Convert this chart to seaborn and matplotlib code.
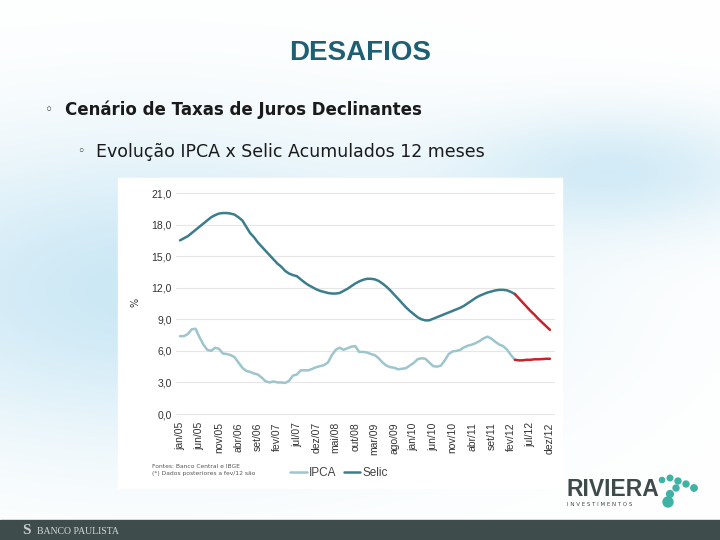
import numpy as np
import pandas as pd
import matplotlib.pyplot as plt
import seaborn as sns
from matplotlib.patches import Rectangle, Circle

# Selic and IPCA, 12-month accumulated (%), monthly jan/05 .. dez/12
selic = [16.5, 16.7, 16.9, 17.2, 17.5, 17.8, 18.1, 18.4, 18.7, 18.9, 19.05, 19.1,
         19.1, 19.05, 18.95, 18.7, 18.4, 17.8, 17.2, 16.8, 16.3, 15.9, 15.5, 15.1,
         14.7, 14.3, 14.0, 13.6, 13.35, 13.2, 13.1, 12.8, 12.5, 12.25, 12.05, 11.85,
         11.7, 11.6, 11.5, 11.45, 11.45, 11.5, 11.7, 11.9, 12.15, 12.4, 12.6, 12.75,
         12.85, 12.85, 12.8, 12.65, 12.4, 12.1, 11.75, 11.35, 10.95, 10.55, 10.15, 9.8,
         9.5, 9.2, 9.0, 8.9, 8.9, 9.05, 9.2, 9.35, 9.5, 9.65, 9.8, 9.95,
         10.1, 10.3, 10.55, 10.8, 11.05, 11.25, 11.4, 11.55, 11.65, 11.75, 11.8, 11.8,
         11.75, 11.6, 11.4, 11.0, 10.6, 10.2, 9.8, 9.45, 9.05, 8.7, 8.35, 8.0]
ipca = [7.4, 7.4, 7.6, 8.05, 8.1, 7.3, 6.6, 6.1, 6.0, 6.3, 6.2, 5.75,
        5.7, 5.6, 5.4, 4.9, 4.4, 4.1, 4.0, 3.85, 3.75, 3.45, 3.1, 3.0,
        3.1, 3.0, 3.0, 2.95, 3.15, 3.65, 3.75, 4.15, 4.15, 4.15, 4.3, 4.45,
        4.55, 4.65, 4.9, 5.6, 6.1, 6.3, 6.1, 6.25, 6.4, 6.45, 5.9, 5.9,
        5.85, 5.7, 5.6, 5.3, 4.9, 4.6, 4.45, 4.4, 4.25, 4.3, 4.35, 4.6,
        4.85, 5.2, 5.3, 5.25, 4.9, 4.55, 4.5, 4.6, 5.1, 5.7, 5.95, 6.0,
        6.1, 6.35, 6.5, 6.6, 6.75, 6.95, 7.2, 7.35, 7.15, 6.85, 6.6, 6.45,
        6.1, 5.6, 5.15, 5.1, 5.1, 5.15, 5.15, 5.2, 5.2, 5.22, 5.25, 5.25]
proj_start = 86  # projected values (red) from here on

tick_labels = ['jan/05', 'jun/05', 'nov/05', 'abr/06', 'set/06', 'fev/07', 'jul/07',
               'dez/07', 'mai/08', 'out/08', 'mar/09', 'ago/09', 'jan/10', 'jun/10',
               'nov/10', 'abr/11', 'set/11', 'fev/12', 'jul/12', 'dez/12']
y_ticks = [0, 3, 6, 9, 12, 15, 18, 21]

df = pd.DataFrame({'mes': np.arange(len(selic)), 'Selic': selic, 'IPCA': ipca})
hist = df[df['mes'] <= proj_start]
proj = df[df['mes'] >= proj_start]

c_selic = '#3c7d8c'
c_ipca = '#9dc5ce'
c_proj = '#c4242b'

sns.set_style('white')
fig = plt.figure(figsize=(7.2, 5.4), dpi=100)

# slide background: soft blue swoosh
bg = fig.add_axes([0, 0, 1, 1])
yy, xx = np.mgrid[0:540, 0:720]
glow = np.exp(-(((xx - 150) / 330.0) ** 2 + ((yy - 290) / 150.0) ** 2))
glow += 0.8 * np.exp(-(((xx - 620) / 160.0) ** 2 + ((yy - 170) / 60.0) ** 2))
glow = np.clip(glow, 0, 1)
base = np.array([1.0, 1.0, 1.0])
tint = np.array([0.80, 0.91, 0.96])
img = base[None, None, :] * (1 - glow[..., None]) + tint[None, None, :] * glow[..., None]
bg.imshow(img, extent=[0, 720, 540, 0], aspect='auto')
bg.set_xlim(0, 720)
bg.set_ylim(540, 0)
bg.axis('off')

# white chart panel, bottom bar
bg.add_patch(Rectangle((118, 178), 444, 310, color='white', zorder=2))
bg.add_patch(Rectangle((0, 520), 720, 20, color='#3e4c4b', zorder=2))

bg.text(360, 53, 'DESAFIOS', ha='center', va='center', fontsize=20, fontweight='bold',
        color='#1e5f73', family='Liberation Sans', zorder=3)
bg.text(49, 110, '◦', ha='center', va='center', fontsize=10, color='#333333', zorder=3)
bg.text(65, 110, 'Cenário de Taxas de Juros Declinantes', ha='left', va='center',
        fontsize=12, fontweight='bold', color='#1a1a1a', family='DejaVu Sans', zorder=3)
bg.text(81, 152, '◦', ha='center', va='center', fontsize=9, color='#333333', zorder=3)
bg.text(96, 152, 'Evolução IPCA x Selic Acumulados 12 meses', ha='left', va='center',
        fontsize=12.5, color='#1a1a1a', family='DejaVu Sans', zorder=3)

bg.text(152, 466, 'Fontes: Banco Central e IBGE', fontsize=4.3, color='#555555',
        va='center', zorder=3)
bg.text(152, 474, '(*) Dados posteriores a fev/12 são', fontsize=4.3, color='#555555',
        va='center', zorder=3)

# RIVIERA logo
bg.text(566, 489, 'RIVIERA', fontsize=16.5, fontweight='bold', color='#3f4a4b',
        va='center', ha='left', family='Liberation Sans', zorder=3)
bg.text(567, 505, 'I N V E S T I M E N T O S', fontsize=4, color='#3f4a4b',
        va='center', ha='left', zorder=3)
for cx, cy, r in [(662, 480, 2.6), (670, 478, 2.8), (678, 481, 3.0), (686, 484, 3.0),
                  (694, 488, 3.2), (676, 488, 3.0), (670, 494, 3.4), (668, 502, 5.0)]:
    bg.add_patch(Circle((cx, cy), r, color='#3fb2a6', zorder=3))

# BANCO PAULISTA mark
bg.text(26, 530, 'S', fontsize=11, color='#c9cfcf', ha='center', va='center',
        family='Liberation Serif', fontweight='bold', zorder=3)
bg.text(37, 531, 'BANCO PAULISTA', fontsize=7, color='#d3d7d7', ha='left', va='center',
        family='Liberation Serif', zorder=3)

# chart
ax = fig.add_axes([176 / 720, 1 - 418 / 540, 379 / 720, 232 / 540])
ax.set_facecolor('none')
sns.lineplot(data=hist, x='mes', y='IPCA', color=c_ipca, lw=1.8, ax=ax, label='IPCA')
sns.lineplot(data=hist, x='mes', y='Selic', color=c_selic, lw=1.8, ax=ax, label='Selic')
sns.lineplot(data=proj, x='mes', y='IPCA', color=c_proj, lw=1.8, ax=ax, legend=False)
sns.lineplot(data=proj, x='mes', y='Selic', color=c_proj, lw=1.8, ax=ax, legend=False)

ax.set_xlim(-1.03, 96.3)
ax.set_ylim(-0.38, 21.67)
ax.set_yticks(y_ticks)
ax.set_yticklabels([f'{v:.1f}'.replace('.', ',') for v in y_ticks], fontsize=7.5,
                   color='#333333', family='Liberation Sans')
ax.set_xticks(np.arange(0, 96, 5))
ax.set_xticklabels(tick_labels, rotation=90, fontsize=7.5, color='#333333',
                   family='Liberation Sans')
ax.tick_params(length=0, pad=3)
ax.grid(axis='y', color='#e6e6e6', lw=0.8)
ax.set_axisbelow(True)
ax.set_xlabel('')
ax.set_ylabel('%', fontsize=7, color='#333333', labelpad=8)
for s in ax.spines.values():
    s.set_visible(False)

leg = ax.legend(loc='center', bbox_to_anchor=(339 / 720, 1 - 473 / 540),
                bbox_transform=fig.transFigure, ncol=2, frameon=False, handlelength=1.4,
                handletextpad=0.2, columnspacing=0.6, prop={'family': 'Liberation Sans', 'size': 8.5})
for t in leg.get_texts():
    t.set_color('#444444')

fig.savefig('out.png', dpi=100)
